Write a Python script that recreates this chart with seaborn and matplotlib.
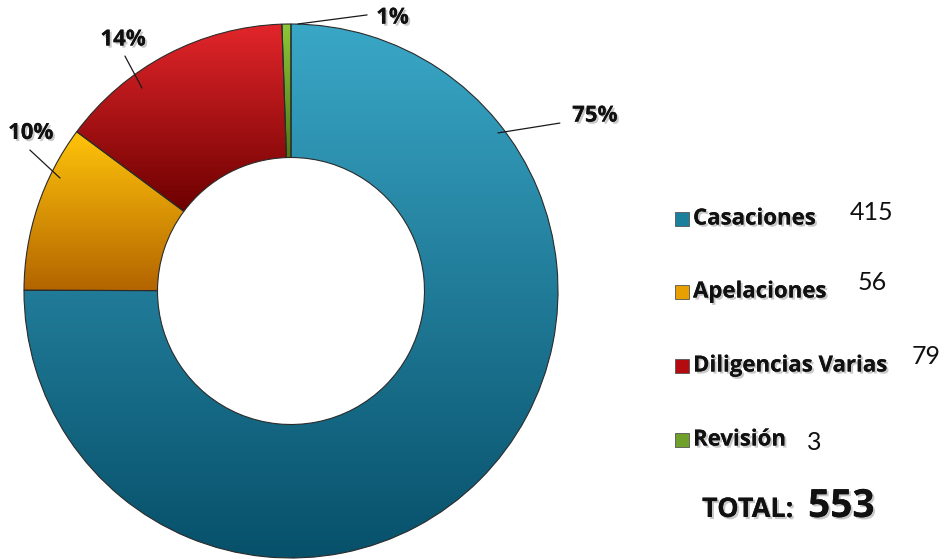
import numpy as np
import matplotlib
matplotlib.use("Agg")
import matplotlib.pyplot as plt
import matplotlib.patheffects as pe
from matplotlib.colors import LinearSegmentedColormap
from matplotlib.patches import Rectangle
import seaborn as sns

# Data
categories = ["Casaciones", "Apelaciones", "Diligencias Varias", "Revisión"]
counts = [415, 56, 79, 3]

# Colour ramps (top -> bottom) for each slice
ramps = [("#3aa7c7", "#07506a"),
         ("#ffc40a", "#b36400"),
         ("#e3262b", "#6e0000"),
         ("#8cc63a", "#4f7a16")]
legend_colors = ["#1b7f9e", "#e8a000", "#b30b10", "#6fa02a"]

sns.set_theme(style="white")
plt.rcParams["font.family"] = ["Open Sans", "DejaVu Sans"]

W, H = 944, 559
fig = plt.figure(figsize=(W / 100, H / 100), dpi=100)
fig.patch.set_facecolor("white")

# Donut axes: centre (291, 291) px, outer radius 267 px
cx, cy, R = 291, 291, 267
ax = fig.add_axes([(cx - R) / W, (H - cy - R) / H, 2 * R / W, 2 * R / H])

wedges, _ = ax.pie(counts, startangle=90, counterclock=False, radius=1.0,
                   wedgeprops=dict(width=0.5, edgecolor="#2b2b2b", linewidth=0.8,
                                   facecolor="none"))

# Vertical gradient inside every slice
grad = np.linspace(0, 1, 256).reshape(-1, 1)
for w, (top, bot) in zip(wedges, ramps):
    ext = w.get_path().get_extents()
    cmap = LinearSegmentedColormap.from_list("r", [bot, top])
    im = ax.imshow(grad, cmap=cmap, origin="lower", aspect="auto",
                   extent=[ext.x0, ext.x1, ext.y0, ext.y1], zorder=0.5,
                   interpolation="bicubic")
    im.set_clip_path(w)
    w.set_zorder(1)

ax.set_xlim(-1, 1)
ax.set_ylim(-1, 1)
ax.set_aspect("equal")
ax.axis("off")

shadow = [pe.withSimplePatchShadow(offset=(1.5, -1.5), shadow_rgbFace="#888888", alpha=0.45),
          pe.Normal()]

# Percentage labels with leader lines (anchor on slice, line end, text centre)
total = sum(counts)
pct_layout = [
    ((0.775, 0.592), (1.007, 0.629), (1.138, 0.655)),
    ((-0.865, 0.423), (-0.978, 0.528), (-0.975, 0.590)),
    ((-0.558, 0.760), (-0.622, 0.880), (-0.629, 0.940)),
    ((0.026, 1.000), (0.285, 1.034), (0.380, 1.022)),
]
for c, (a, b, t) in zip(counts, pct_layout):
    ax.plot([a[0], b[0]], [a[1], b[1]], color="#1a1a1a", lw=0.9,
            clip_on=False, zorder=3)
    ax.text(t[0], t[1], f"{100 * c / total:.0f}%", ha="center", va="center",
            fontsize=16, fontweight="bold", color="#111111", clip_on=False,
            path_effects=shadow, zorder=4)

# Legend with counts
row_y = [219, 292, 366, 440]
num_x = [850, 858, 912, 807]
num_dy = [-6, -9, -9, 2]
for name, c, col, y, nx, dy in zip(categories, counts, legend_colors, row_y, num_x, num_dy):
    fig.patches.append(Rectangle(((675) / W, 1 - (y + 7) / H), 14 / W, 14 / H,
                                 transform=fig.transFigure, facecolor=col,
                                 edgecolor="#555555", linewidth=0.6))
    fig.text(693 / W, 1 - y / H, name, ha="left", va="center", fontsize=16,
             fontweight="bold", color="#111111", path_effects=shadow)
    fig.text(nx / W, 1 - (y + dy) / H, str(c), ha="left", va="center",
             fontsize=18, color="#111111", family=["Lato", "DejaVu Sans"])

fig.text(702 / W, 1 - 517 / H, "TOTAL:", ha="left", va="baseline", fontsize=19.5,
         fontweight="bold", color="#111111", path_effects=shadow)
fig.text(808 / W, 1 - 517 / H, f"{total}", ha="left", va="baseline", fontsize=28,
         fontweight="bold", color="#111111", path_effects=shadow)

fig.savefig("out.png", dpi=100, facecolor="white")
